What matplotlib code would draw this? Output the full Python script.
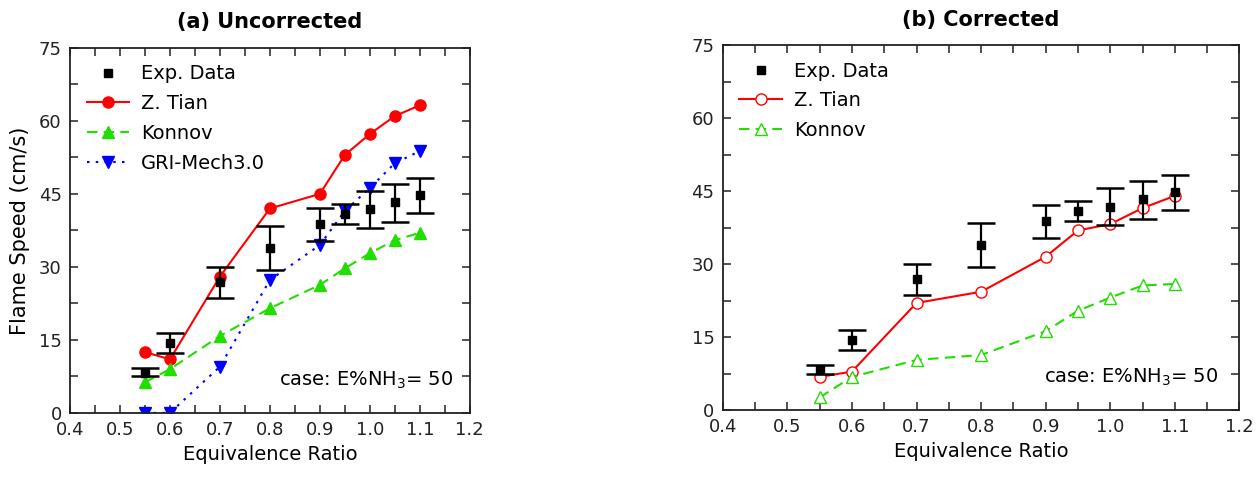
import matplotlib
matplotlib.use("Agg")
import matplotlib.pyplot as plt
from matplotlib.ticker import MultipleLocator

plt.rcParams['font.family'] = ['DejaVu Sans']

phi = [0.55, 0.60, 0.70, 0.80, 0.90, 0.95, 1.00, 1.05, 1.10]

exp_speed = [8.3, 14.4, 26.9, 33.9, 38.8, 40.9, 41.8, 43.3, 44.7]
exp_lo = [7.5, 12.4, 23.7, 29.4, 35.4, 38.9, 38.0, 39.3, 41.1]
exp_hi = [9.2, 16.4, 30.0, 38.5, 42.2, 43.0, 45.6, 47.1, 48.2]

tian_unc = [12.5, 11.0, 28.0, 42.0, 45.0, 53.0, 57.3, 61.0, 63.2]
konnov_unc = [6.3, 9.0, 15.8, 21.5, 26.3, 29.7, 32.8, 35.5, 37.0]
gri_unc = [0.0, 0.0, 9.5, 27.3, 34.5, 41.5, 46.2, 51.3, 53.8]

tian_cor = [6.8, 7.9, 22.0, 24.3, 31.5, 36.9, 38.2, 41.5, 44.0]
konnov_cor = [2.6, 6.8, 10.3, 11.3, 16.2, 20.4, 23.1, 25.6, 25.9]

case_label = "case: E%NH$_3$= 50"

fig = plt.figure(figsize=(12.57, 4.79), dpi=100)
ax1 = fig.add_axes([0.0557, 0.138, 0.318, 0.762])
ax2 = fig.add_axes([0.575, 0.144, 0.411, 0.762])

yerr = [[e - l for e, l in zip(exp_speed, exp_lo)],
        [h - e for e, h in zip(exp_speed, exp_hi)]]

GREEN = '#22dd00'


def style_axes(ax):
    ax.set_xlim(0.4, 1.2)
    ax.set_ylim(0, 75)
    ax.xaxis.set_major_locator(MultipleLocator(0.1))
    ax.xaxis.set_minor_locator(MultipleLocator(0.05))
    ax.yaxis.set_major_locator(MultipleLocator(15))
    ax.yaxis.set_minor_locator(MultipleLocator(7.5))
    ax.tick_params(which='both', direction='in', top=True, right=True,
                   labelsize=13, width=1.2, colors='#333333')
    ax.tick_params(which='both', length=6)
    ax.tick_params(axis='both', labelcolor='#222222', pad=6)
    ax.xaxis.set_major_formatter(plt.FuncFormatter(lambda v, p: f"{v:.1f}"))
    ax.yaxis.set_major_formatter(plt.FuncFormatter(lambda v, p: f"{v:.0f}"))
    for s in ax.spines.values():
        s.set_linewidth(1.3)
        s.set_color('#222222')
    ax.set_xlabel("Equivalence Ratio", fontsize=14, labelpad=4)


def draw_exp(ax):
    ax.errorbar(phi, exp_speed, yerr=yerr, fmt='none', ecolor='black',
                capsize=10, capthick=1.8, elinewidth=1.6, zorder=5)
    ax.plot(phi, exp_speed, 's', color='black', ms=6, label='Exp. Data',
            zorder=6)


def finish(ax, title):
    ax.set_title(title, fontsize=15, fontweight='bold', pad=14)
    ax.legend(loc='upper left', frameon=False, fontsize=14, handlelength=2.2,
              labelspacing=0.55, borderaxespad=0.45, handletextpad=0.6)
    ax.text(0.96, 0.09, case_label, transform=ax.transAxes, ha='right',
            va='center', fontsize=14)


# (a) Uncorrected
draw_exp(ax1)
ax1.plot(phi, tian_unc, '-', color='red', marker='o', ms=8, lw=1.5, label='Z. Tian')
ax1.plot(phi, konnov_unc, '--', color=GREEN, marker='^', ms=8, lw=1.5,
         dashes=(5, 3), label='Konnov')
ax1.plot(phi, gri_unc, ':', color='blue', marker='v', ms=8, lw=1.5,
         dashes=(1.2, 3), label='GRI-Mech3.0')
style_axes(ax1)
ax1.set_ylabel("Flame Speed (cm/s)", fontsize=15, labelpad=6)
finish(ax1, "(a) Uncorrected")

# (b) Corrected
draw_exp(ax2)
ax2.plot(phi, tian_cor, '-', color='red', marker='o', ms=8, lw=1.5,
         mfc='white', mec='red', label='Z. Tian')
ax2.plot(phi, konnov_cor, '--', color=GREEN, marker='^', ms=8, lw=1.5,
         dashes=(5, 3), mfc='white', mec=GREEN, label='Konnov')
style_axes(ax2)
finish(ax2, "(b) Corrected")

fig.savefig("out.png", dpi=100, facecolor='white')
